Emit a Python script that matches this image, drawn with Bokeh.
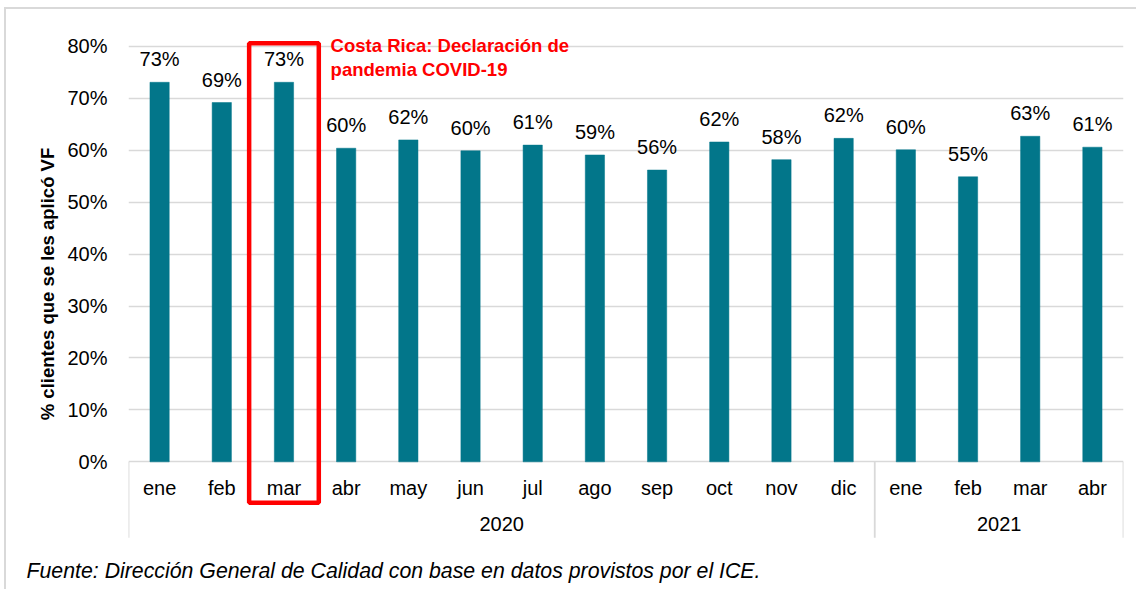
from bokeh.plotting import figure
from bokeh.models import (FactorRange, Range1d, ColumnDataSource, FixedTicker,
                          PrintfTickFormatter, Title)
from bokeh.core.properties import value
from bokeh.embed import file_html
from bokeh.resources import INLINE

# ---------------- data ----------------
years = ["2020"] * 12 + ["2021"] * 4
months = ["ene", "feb", "mar", "abr", "may", "jun", "jul", "ago", "sep", "oct",
          "nov", "dic", "ene", "feb", "mar", "abr"]
pct = [73.1, 69.2, 73.1, 60.4, 62.0, 59.9, 61.0, 59.1, 56.2, 61.6, 58.2, 62.3,
       60.1, 54.9, 62.7, 60.6]
year_labels = ["2020", "2021"]
y_ticks = [0, 10, 20, 30, 40, 50, 60, 70, 80]
y_title = "% clientes que se les aplicó VF"
note_text = "Costa Rica: Declaración de\npandemia COVID-19"
source_text = "Fuente: Dirección General de Calidad con base en datos provistos por el ICE."

# ---------------- style ----------------
FONT = value("Liberation Sans")
BAR_COLOR = "#02768A"
GRID_COLOR = "#d9d9d9"
FS = "20px"

factors = list(zip(years, months))
labels = [f"{round(v)}%" for v in pct]
src = ColumnDataSource(dict(x=factors, pct=pct, lbl=labels, month=months))

x_range = FactorRange(*factors, group_padding=0, factor_padding=0, subgroup_padding=0)
y_range = Range1d(-16.5, 85)

p = figure(x_range=x_range, y_range=y_range, width=1132, height=582,
           output_backend="svg", toolbar_location=None, title=None,
           min_border_left=122, min_border_right=15, min_border_top=11,
           min_border_bottom=43)
p.styles = {"border-left": "2px solid #d9d9d9", "border-top": "2px solid #d9d9d9",
            "margin-left": "4px", "margin-top": "7px"}
p.outline_line_color = None
p.background_fill_color = "white"
p.border_fill_color = "white"

p.xaxis.visible = False
p.xgrid.visible = False
p.yaxis.ticker = FixedTicker(ticks=y_ticks)
p.yaxis.formatter = PrintfTickFormatter(format="%d%%")
p.yaxis.axis_line_color = None
p.yaxis.major_tick_line_color = None
p.yaxis.minor_tick_line_color = None
p.yaxis.major_label_standoff = 15
p.yaxis.major_label_text_font = "Liberation Sans"
p.yaxis.major_label_text_font_size = FS
p.yaxis.major_label_text_color = "#000000"
p.ygrid.grid_line_color = GRID_COLOR
p.ygrid.grid_line_width = 1.6

# bars
p.vbar(x="x", top="pct", width=0.31, source=src, fill_color=BAR_COLOR,
       line_color=BAR_COLOR, line_width=0.5)

# value labels
p.text(x="x", y="pct", text="lbl", source=src, text_align="center",
       text_baseline="alphabetic", y_offset=-23, text_font=FONT,
       text_font_size=FS, text_color="#000000")

# month labels
p.text(x="x", y=-5.0, text="month", source=src, text_align="center",
       text_baseline="middle", text_font=FONT, text_font_size=FS,
       text_color="#000000")

# year labels
ysrc = ColumnDataSource(dict(x=year_labels, t=year_labels))
p.text(x="x", y=-12.0, text="t", source=ysrc, text_align="center",
       text_baseline="middle", text_font=FONT, text_font_size=FS,
       text_color="#000000")

# group separators
sep_x = []
for i, f in enumerate(factors):
    if i == 0 or factors[i - 1][0] != f[0]:
        sep_x.append((f[0], f[1], -0.5))
sep_x.append((factors[-1][0], factors[-1][1], 0.5))
p.segment(x0=sep_x, x1=sep_x, y0=[0] * len(sep_x), y1=[-14.6] * len(sep_x),
          line_color=GRID_COLOR, line_width=1.8)

# red highlight box around mar 2020
p.rect(x=[("2020", "mar")], y=[(80.6 + -7.9) / 2], width=1.12, height=80.6 + 7.9,
       fill_color=None, line_color="#ff0000", line_width=4.5)

p.text(x=[("2020", "abr", -0.25)], y=[82.2], text=[note_text],
       text_align="left", text_baseline="top", text_font=FONT,
       text_font_size="18.5px", text_font_style="bold", text_color="#ff0000",
       text_line_height=1.12)

# y axis title (vertical title on the left, shifted up to centre on 0-80 %)
p.add_layout(Title(text=y_title, align="center", offset=48,
                   text_font="Liberation Sans", text_font_size="18.5px",
                   text_font_style="bold", text_color="#000000",
                   standoff=13), "left")

# source note below
p.add_layout(Title(text=source_text, align="left", offset=-102,
                   text_font="Liberation Sans", text_font_size="21.3px",
                   text_font_style="italic", text_color="#000000",
                   standoff=18), "below")

open("out.html", "w").write(file_html(p, INLINE))
